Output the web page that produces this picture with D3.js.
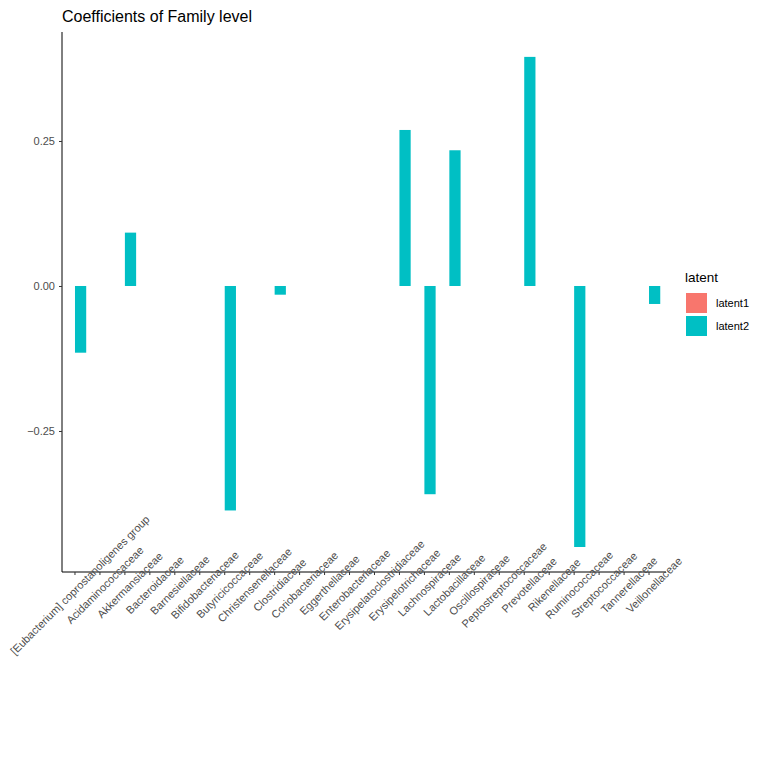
<!DOCTYPE html>
<html><head><meta charset="utf-8">
<script src="https://cdn.jsdelivr.net/npm/d3@7"></script>
<style>body{margin:0;background:#fff}</style></head>
<body><svg id="c" width="768" height="768"></svg>
<script>
const categories = ["[Eubacterium] coprostanoligenes group","Acidaminococcaceae","Akkermansiaceae","Bacteroidaceae","Barnesiellaceae","Bifidobacteriaceae","Butyricicoccaceae","Christensenellaceae","Clostridiaceae","Coriobacteriaceae","Eggerthellaceae","Enterobacteriaceae","Erysipelatoclostridiaceae","Erysipelotrichaceae","Lachnospiraceae","Lactobacillaceae","Oscillospiraceae","Peptostreptococcaceae","Prevotellaceae","Rikenellaceae","Ruminococcaceae","Streptococcaceae","Tannerellaceae","Veillonellaceae"];
const latent1 = [0,0,0,0,0,0,0,0,0,0,0,0,0,0,0,0,0,0,0,0,0,0,0,0];
const latent2 = [-0.115,0,0.092,0,0,0,-0.387,0,-0.015,0,0,0,0,0.269,-0.359,0.234,0,0,0.395,0,-0.45,0,0,-0.031];
const series = ["latent1","latent2"];
const colors = ["#F8766D","#00BFC4"];
const yTicks = [-0.25,0,0.25];

const svg = d3.select("#c");
const L=62,R=666,T=32,B=572;
const x = d3.scaleBand().domain(categories).range([62.5,661.5]).padding(0);
const y = d3.scaleLinear().domain([-0.4931,0.4379]).range([B,T]);
const inner = d3.scaleBand().domain(series).range([x.bandwidth()*0.05, x.bandwidth()*0.95]);
[latent1,latent2].forEach((vals,si)=>{
  svg.append("g").selectAll("rect").data(vals).join("rect")
    .attr("x",(d,i)=>x(categories[i])+inner(series[si]))
    .attr("width",inner.bandwidth())
    .attr("y",d=>y(Math.max(0,d)))
    .attr("height",d=>Math.abs(y(d)-y(0)))
    .attr("fill",colors[si]);
});
const ya = svg.append("g").attr("transform",`translate(${L},0)`).call(d3.axisLeft(y).tickValues(yTicks).tickFormat(d3.format(".2f")).tickSize(3).tickPadding(4));
ya.select(".domain").attr("d",`M0,${T}V${B}`);
const xa = svg.append("g").attr("transform",`translate(0,${B})`).call(d3.axisBottom(x).tickSize(3).tickPadding(2));
xa.select(".domain").attr("d",`M${L},0H${R}`);
svg.selectAll(".tick text").attr("font-family","Liberation Sans, Arial").attr("font-size",11).attr("fill","#4d4d4d");
xa.selectAll(".tick text").attr("text-anchor","middle").attr("y",0).attr("dy","0.35em").attr("transform","translate(5,13) rotate(-45)");
svg.selectAll(".tick line").attr("stroke","#333");
svg.selectAll(".domain").attr("stroke","#000");
svg.append("text").attr("x",L).attr("y",22).text("Coefficients of Family level")
  .attr("font-family","Liberation Sans, Arial").attr("font-size",16).attr("fill","#000");
const lg = svg.append("g").attr("font-family","Liberation Sans, Arial");
lg.append("text").attr("x",685).attr("y",282).text("latent").attr("font-size",13.5);
series.forEach((s,i)=>{
  lg.append("rect").attr("x",686).attr("y",293+i*23).attr("width",21).attr("height",20).attr("fill",colors[i]);
  lg.append("text").attr("x",716).attr("y",307+i*23).text(s).attr("font-size",11);
});
</script></body></html>
